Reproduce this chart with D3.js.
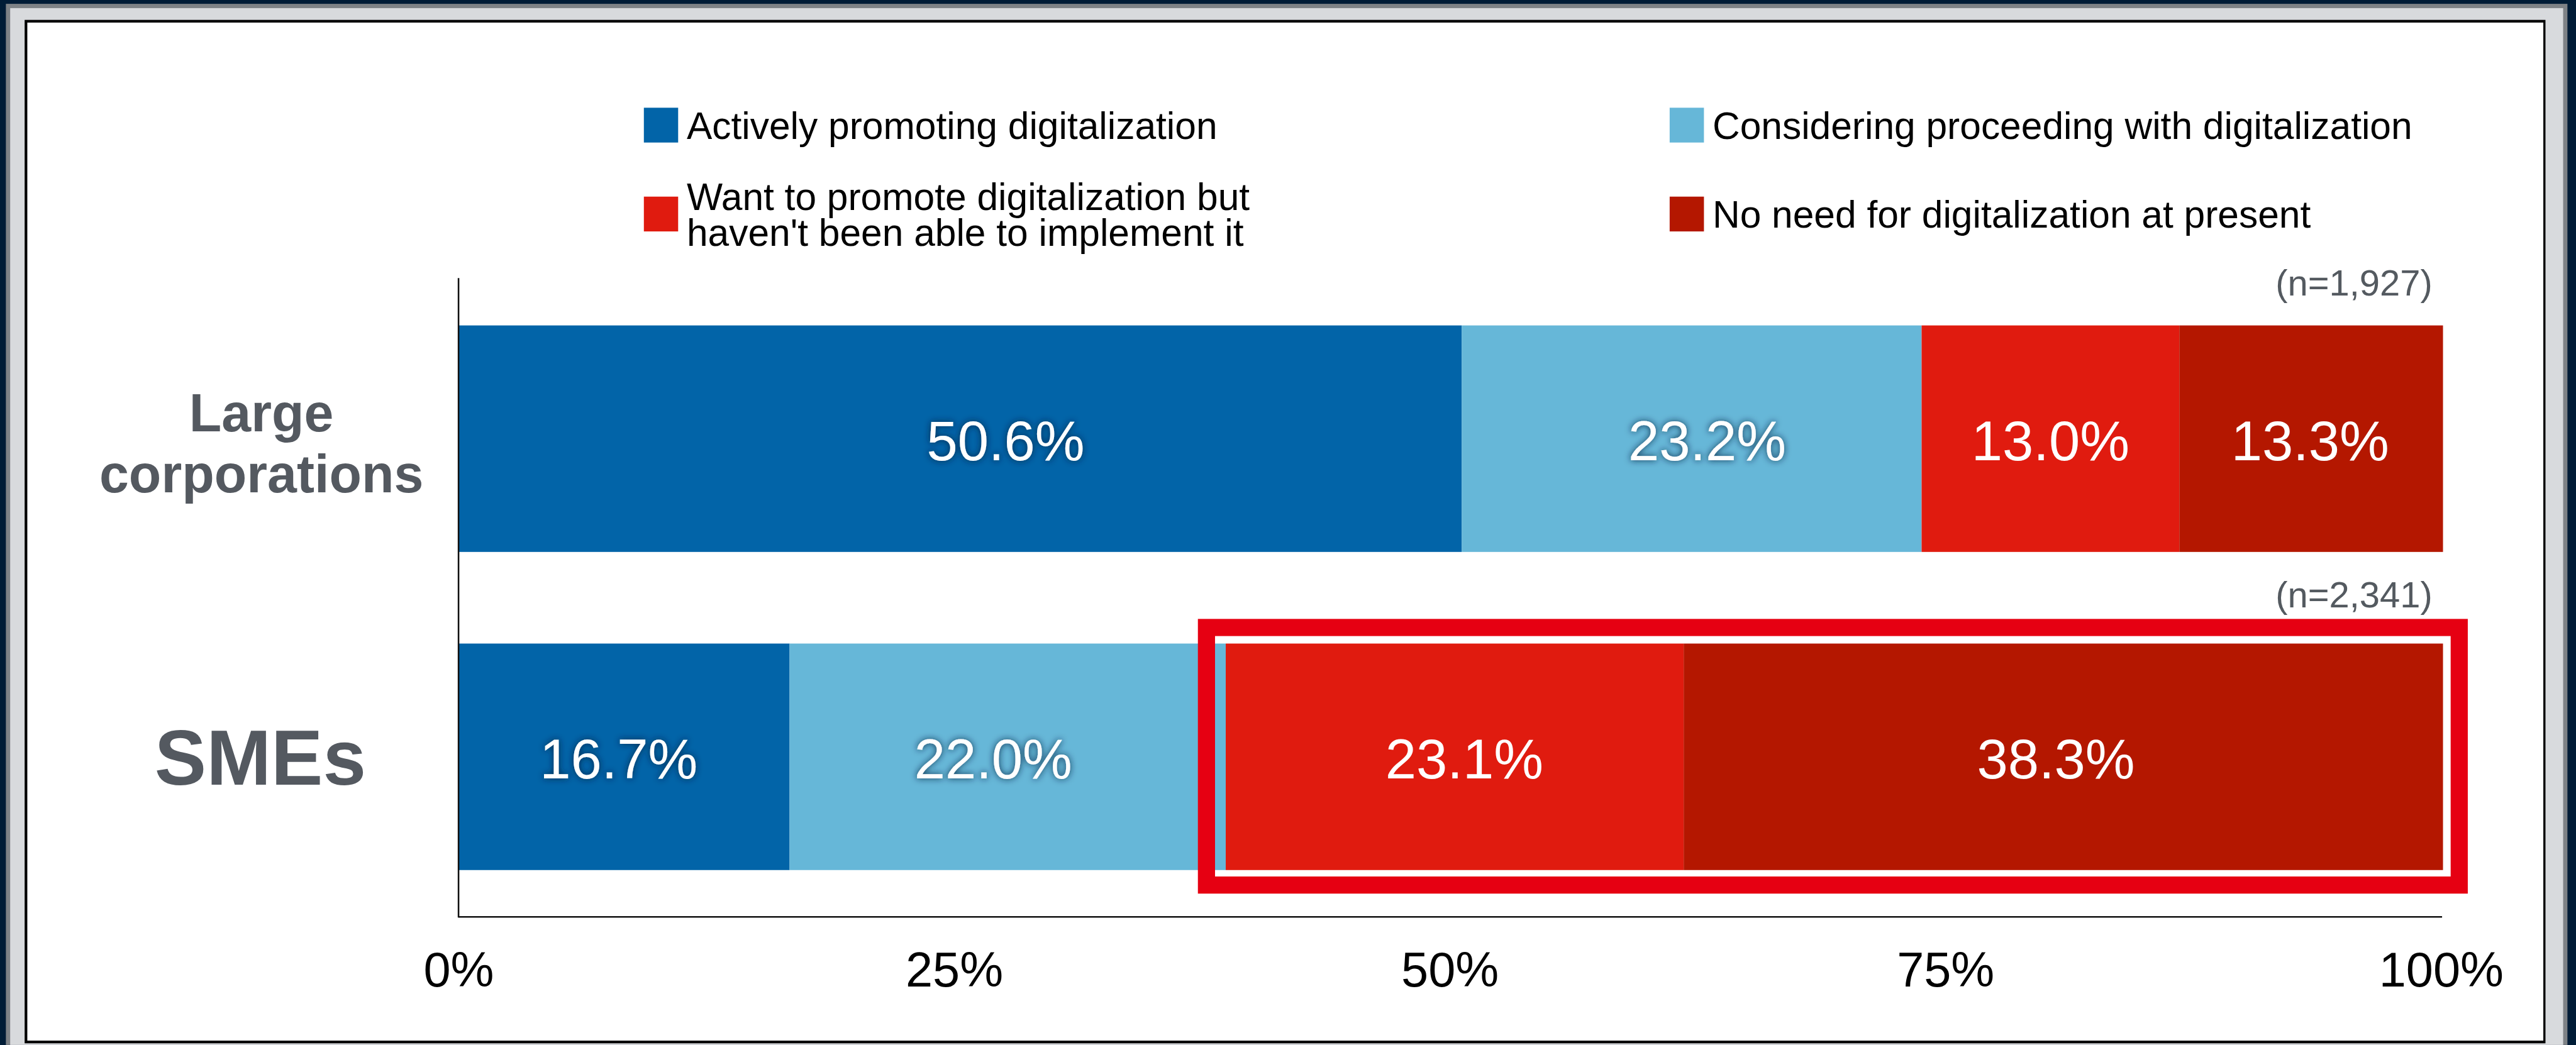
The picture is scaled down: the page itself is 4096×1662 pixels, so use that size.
<!DOCTYPE html>
<html><head><meta charset="utf-8">
<script src="https://cdn.jsdelivr.net/npm/d3@7"></script>
<style>html,body{margin:0;padding:0;background:#001c36;overflow:hidden}svg{display:block}</style>
</head><body>
<svg id="chart" width="4096" height="1662" viewBox="0 0 4809 1951"></svg>
<script>
// ---- data ----
const categories = ["Large corporations", "SMEs"];
const categoryLines = [["Large", "corporations"], ["SMEs"]];
const seriesNames = [
  "Actively promoting digitalization",
  "Considering proceeding with digitalization",
  "Want to promote digitalization but haven't been able to implement it",
  "No need for digitalization at present"
];
const legendLines = [
  ["Actively promoting digitalization"],
  ["Considering proceeding with digitalization"],
  ["Want to promote digitalization but", "haven't been able to implement it"],
  ["No need for digitalization at present"]
];
const largeValues = [50.6, 23.2, 13.0, 13.3];
const smeValues = [16.7, 22.0, 23.1, 38.3];
const sampleSizes = ["(n=1,927)", "(n=2,341)"];
const tickValues = [0, 25, 50, 75, 100];
const seriesColors = ["#0264a8", "#66b7d8", "#e01b0f", "#b41700"];

// layout-only nudges for value labels (reference units), per category then series
const labelNudges = [[85, 29, 0, 0], [-10, -27, 18, -12]];

const valuesByCategory = [largeValues, smeValues];
const FONT = "'Liberation Sans', Arial, Helvetica, sans-serif";

const svg = d3.select("#chart");

// ---- frame ----
svg.append("rect").attr("x", 0).attr("y", 0).attr("width", 4809).attr("height", 1951).attr("fill", "#001c36");
svg.append("rect").attr("x", 11).attr("y", 7).attr("width", 4782).attr("height", 1944).attr("fill", "#7e8286");
svg.append("rect").attr("x", 19).attr("y", 15).attr("width", 4766).attr("height", 1936).attr("fill", "#d8dadd");
svg.append("rect").attr("x", 46).attr("y", 37).attr("width", 4706).attr("height", 1911).attr("fill", "#000");
svg.append("rect").attr("x", 51).attr("y", 42).attr("width", 4697).attr("height", 1901).attr("fill", "#fff");

// ---- filter (glow) ----
const defs = svg.append("defs");
const f = defs.append("filter").attr("id", "glow").attr("x", "-20%").attr("y", "-40%").attr("width", "140%").attr("height", "180%");
f.append("feGaussianBlur").attr("in", "SourceAlpha").attr("stdDeviation", 6).attr("result", "b");
f.append("feFlood").attr("flood-color", "#00213f").attr("flood-opacity", 0.9).attr("result", "c");
f.append("feComposite").attr("in", "c").attr("in2", "b").attr("operator", "in").attr("result", "s");
const fm = f.append("feMerge");
fm.append("feMergeNode").attr("in", "s");
fm.append("feMergeNode").attr("in", "SourceGraphic");

// ---- scales ----
const x = d3.scaleLinear().domain([0, 100]).range([856, 4557]);
const y = d3.scaleBand().domain(categories).range([519, 1713]).paddingInner(0.288).paddingOuter(0.149);

// stacked data
const rows = categories.map((c, i) => {
  let acc = 0;
  return valuesByCategory[i].map((v, s) => {
    const d = {cat: c, ci: i, s, v, x0: acc, x1: acc + v};
    acc += v;
    return d;
  });
});

const gBars = svg.append("g");
rows.forEach(r => {
  gBars.selectAll(null).data(r).enter().append("rect")
    .attr("x", d => x(d.x0))
    .attr("y", d => y(d.cat))
    .attr("width", d => x(d.x1) - x(d.x0))
    .attr("height", y.bandwidth())
    .attr("fill", d => seriesColors[d.s]);
});

// value labels
rows.forEach(r => {
  gBars.selectAll(null).data(r).enter().append("text")
    .attr("x", d => (x(d.x0) + x(Math.min(d.x1, 100))) / 2 + labelNudges[d.ci][d.s])
    .attr("y", d => y(d.cat) + y.bandwidth() / 2 + 40)
    .attr("text-anchor", "middle")
    .attr("font-family", FONT)
    .attr("font-size", 104)
    .attr("fill", "#fff")
    .attr("filter", d => d.s < 2 ? "url(#glow)" : null)
    .text(d => d.v.toFixed(1) + "%");
});

// ---- axes ----
svg.append("line").attr("x1", x(0)).attr("x2", x(0)).attr("y1", 519).attr("y2", 1713)
  .attr("stroke", "#111").attr("stroke-width", 3);
const xAxis = d3.axisBottom(x).tickValues(tickValues).tickSize(0).tickPadding(0).tickFormat(d => d + "%");
const gx = svg.append("g").attr("transform", "translate(0,1712)").call(xAxis);
gx.select(".domain").attr("stroke", "#111").attr("stroke-width", 3).attr("d", `M${x(0)},0H${x(100)+2}`);
gx.selectAll("text").attr("font-family", FONT).attr("font-size", 91).attr("fill", "#000")
  .attr("dy", null).attr("y", 130);

// ---- category labels ----
const catFont = [99, 145];
categories.forEach((c, i) => {
  const cy = y(c) + y.bandwidth() / 2;
  const lines = categoryLines[i];
  const t = svg.append("text").attr("text-anchor", "middle").attr("font-family", FONT)
    .attr("font-weight", "bold").attr("fill", "#545960").attr("font-size", catFont[i]);
  if (lines.length === 2) {
    t.append("tspan").attr("x", 488).attr("y", cy - 14).text(lines[0]);
    t.append("tspan").attr("x", 488).attr("y", cy + 100).text(lines[1]);
  } else {
    t.append("tspan").attr("x", 486).attr("y", cy + 0.362 * catFont[i]).text(lines[0]);
  }
});

// ---- sample sizes ----
categories.forEach((c, i) => {
  svg.append("text").attr("x", 4541).attr("y", y(c) - (i === 0 ? 56 : 67))
    .attr("text-anchor", "end").attr("font-family", FONT).attr("font-size", 68)
    .attr("fill", "#545a60").text(sampleSizes[i]);
});

// ---- highlight box ----
const sme = rows[1];
svg.append("rect")
  .attr("x", x(sme[2].x0) - 36)
  .attr("y", y("SMEs") - 30)
  .attr("width", (x(100) + 34) - (x(sme[2].x0) - 36))
  .attr("height", y.bandwidth() + 58)
  .attr("fill", "none").attr("stroke", "#e60012").attr("stroke-width", 32);

// ---- legend ----
const legCols = [1202, 3117];
const legRows = [201, 367];
const legFont = 71;
seriesNames.forEach((name, i) => {
  const lx = legCols[i % 2], ly = legRows[Math.floor(i / 2)];
  const g = svg.append("g");
  g.append("rect").attr("x", lx).attr("y", ly).attr("width", 64).attr("height", 65).attr("fill", seriesColors[i]);
  const cy = ly + 32.5;
  const lines = legendLines[i];
  const t = g.append("text").attr("font-family", FONT).attr("font-size", legFont).attr("fill", "#000");
  const base = cy + 0.358 * legFont - (lines.length - 1) * 67 / 2;
  lines.forEach((ln, k) => {
    t.append("tspan").attr("x", lx + 80).attr("y", base + k * 67).text(ln);
  });
});
</script>
</body></html>
